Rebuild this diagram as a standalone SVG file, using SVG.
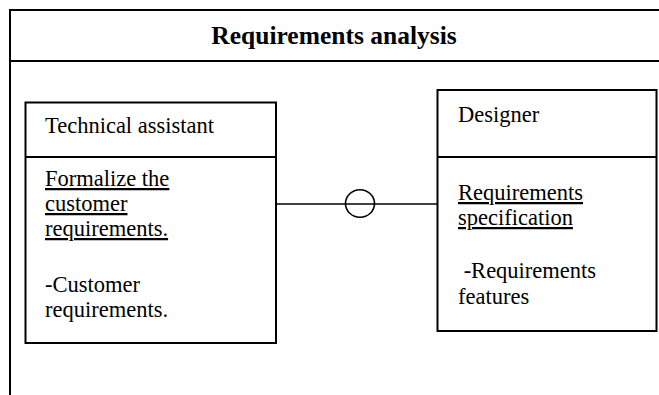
<svg xmlns="http://www.w3.org/2000/svg" width="659" height="395" viewBox="0 0 659 395">
<style>
.frame{fill:none;stroke:#000;stroke-width:2}
.box{fill:#fff;stroke:#000;stroke-width:2}
.conn{fill:none;stroke:#000;stroke-width:1.6}
.t{font-family:"Liberation Serif","Times New Roman",serif;font-size:22.5px;fill:#000}
.title{font-family:"Liberation Serif","Times New Roman",serif;font-size:25.5px;font-weight:bold;fill:#000}
.u{text-decoration:underline}
</style>
<rect width="659" height="395" fill="#fff"/>
<g id="frame">
<path class="frame" d="M10,395 V10 H660 M10,61 H660"/>
<text class="title" x="334" y="44" text-anchor="middle">Requirements analysis</text>
</g>
<g id="connectors">
<line class="conn" x1="276" y1="204" x2="437" y2="204"/>
<ellipse class="conn" cx="360" cy="203.5" rx="14.5" ry="13.8" fill="#fff"/>
</g>
<g id="technical-assistant">
<rect class="box" x="25.5" y="102.5" width="250.5" height="240.5"/>
<line class="box" x1="25.5" y1="157" x2="276" y2="157"/>
<text class="t" x="45" y="133">Technical assistant</text>
<text class="t u" x="45" y="186">Formalize the</text>
<text class="t u" x="45" y="211">customer</text>
<text class="t u" x="45" y="236">requirements.</text>
<text class="t" x="45" y="292">-Customer</text>
<text class="t" x="45" y="317">requirements.</text>
</g>
<g id="designer">
<rect class="box" x="437.5" y="90" width="219" height="241"/>
<line class="box" x1="437.5" y1="157" x2="656.5" y2="157"/>
<text class="t" x="458" y="122">Designer</text>
<text class="t u" x="458" y="200">Requirements</text>
<text class="t u" x="458" y="225">specification</text>
<text class="t" x="458" y="278" xml:space="preserve"> -Requirements</text>
<text class="t" x="458" y="304">features</text>
</g>
</svg>
